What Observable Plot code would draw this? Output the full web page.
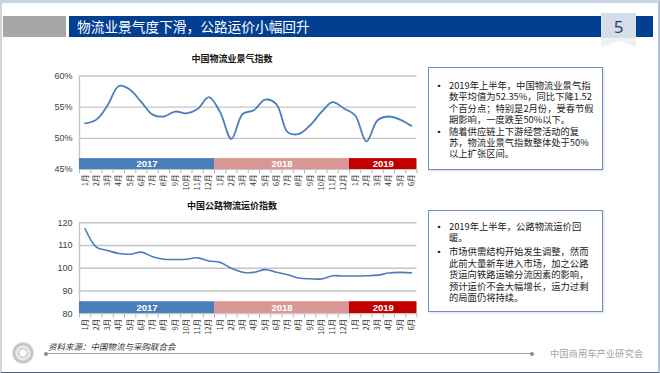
<!DOCTYPE html>
<html><head><meta charset="utf-8">
<script src="https://cdn.jsdelivr.net/npm/d3@7"></script>
<script src="https://cdn.jsdelivr.net/npm/@observablehq/plot@0.6"></script>
<style>
html,body{margin:0;padding:0;background:#fff;}
body{width:660px;height:373px;position:relative;overflow:hidden;font-family:"Noto Sans CJK SC","Noto Sans",sans-serif;}
.abs{position:absolute;}
#frame{left:0;top:0;width:656px;height:369px;border-top:3px solid #c9d4e2;border-left:2px solid #cfd5dd;border-right:2px solid #b9c2cf;border-bottom:1px solid #4a5a78;box-sizing:content-box;}
#graybar{left:3px;top:16px;width:63px;height:21px;background:#a6a6a6;}
#bluebar{left:69px;top:16px;width:584px;height:21px;background:#033f91;}
#title{left:77px;top:16px;height:21px;line-height:21px;color:#fff;font-size:13.7px;white-space:nowrap;}
#badge{left:601px;top:13px;width:35px;height:34px;background:linear-gradient(#d7dde7 0%,#d7dde7 72%,#eef0f4 73%);clip-path:polygon(0 0,100% 0,100% 100%,50% 82%,0 100%);}
#badgeNum{left:601px;top:15px;width:35px;text-align:center;font-family:"Open Sans",sans-serif;font-size:17px;color:#1c3a78;}
.ctitle{font-size:9px;font-weight:bold;color:#111;white-space:nowrap;transform:translateX(-50%);}
.box{border:1px solid #6f8fc4;box-shadow:1px 1px 2px rgba(0,0,0,0.15);background:#fff;box-sizing:border-box;}
.para{position:relative;padding-left:20px;font-size:9.3px;line-height:11.4px;color:#222;white-space:nowrap;}
.para .b{position:absolute;left:6px;top:0;font-size:8px;}
#source{left:48px;top:340px;font-size:8.5px;font-style:italic;color:#333;white-space:nowrap;}
#footline{left:46px;top:353px;width:486px;height:1px;background:#a0a0a0;}
.dot{width:4px;height:4px;border-radius:2px;background:#8c8c8c;}
#org{left:550px;top:346px;font-size:9.3px;color:#a6a6a6;white-space:nowrap;}
#logo{left:12px;top:342px;width:22px;height:22px;border-radius:11px;background:radial-gradient(circle,#fff 0 3px,#c8c8c8 4px,#f2f2f2 6px,#bdbdbd 9px,#e6e6e6 11px);}
</style></head>
<body>
<div id="frame" class="abs"></div>
<div id="graybar" class="abs"></div>
<div id="bluebar" class="abs"></div>
<div id="title" class="abs">物流业景气度下滑，公路运价小幅回升</div>
<div id="badge" class="abs"></div>
<div id="badgeNum" class="abs">5</div>

<div class="abs ctitle" style="left:232px;top:52px;">中国物流业景气指数</div>
<div class="abs ctitle" style="left:232px;top:199px;">中国公路物流运价指数</div>
<div id="chart1" class="abs" style="left:30px;top:65px;"></div>
<div id="chart2" class="abs" style="left:30px;top:210px;"></div>

<div class="abs box" style="left:428px;top:67px;width:175px;height:103px;padding-top:12px;">
  <div class="para"><span class="b">▪</span>2019年上半年，中国物流业景气指<br>数平均值为52.35%，同比下降1.52<br>个百分点；特别是2月份，受春节假<br>期影响，一度跌至50%以下。</div>
  <div class="para"><span class="b">▪</span>随着供应链上下游经营活动的复<br>苏，物流业景气指数整体处于50%<br>以上扩张区间。</div>
</div>
<div class="abs box" style="left:428px;top:210px;width:175px;height:102px;padding-top:10px;">
  <div class="para"><span class="b">▪</span>2019年上半年，公路物流运价回<br>暖。</div>
  <div class="para" style="margin-top:2.5px;"><span class="b">▪</span>市场供需结构开始发生调整，然而<br>此前大量新车进入市场，加之公路<br>货运向铁路运输分流因素的影响，<br>预计运价不会大幅增长，运力过剩<br>的局面仍将持续。</div>
</div>

<div id="logo" class="abs"></div>
<div id="source" class="abs">资料来源：中国物流与采购联合会</div>
<div id="footline" class="abs"></div>
<div class="abs dot" style="left:44px;top:351.5px;"></div>
<div class="abs dot" style="left:530px;top:351.5px;"></div>
<div id="org" class="abs">中国商用车产业研究会</div>

<script>
// ---- data ----
const monthLabels = ["1月","2月","3月","4月","5月","6月","7月","8月","9月","10月","11月","12月",
                     "1月","2月","3月","4月","5月","6月","7月","8月","9月","10月","11月","12月",
                     "1月","2月","3月","4月","5月","6月"];
const years = ["2017","2018","2019"];
const yearMonthCounts = [12, 12, 6];
const yearColors = ["#4a7ebb", "#d99694", "#c00000"];
const logisticsIndex = [52.4,53.0,55.3,58.4,57.8,55.8,53.8,53.5,54.3,54.0,54.7,56.6,
                        54.2,49.9,53.9,54.5,56.2,55.5,51.0,50.7,52.1,54.2,55.8,54.8,
                        53.7,49.5,52.9,53.5,53.0,52.0];
const freightIndex = [117.4,109.3,107.8,106.5,106.2,107.1,105.1,104.0,103.9,104.0,104.6,103.2,
                      102.6,100.0,98.3,98.2,99.4,98.3,97.2,95.7,95.4,95.3,96.7,96.6,
                      96.6,96.7,97.0,97.9,98.2,98.0];
const topTicks = [45,50,55,60];
const bottomTicks = [80,90,100,110,120];

// derived tables
let acc = 0;
const yearTable = years.map((y,k)=>{ const s = acc; acc += yearMonthCounts[k]; return {year:y, start:s, end:acc, color:yearColors[k]}; });
const n = monthLabels.length;
const boundaries = d3.range(0, n + 1);
const monthTable = monthLabels.map((m,i)=>({m, x:i+0.5}));

function makeChart(values, opts){
  const rows = values.map((v,i)=>({x:i+0.5, v}));
  const [y0,y1] = opts.domain;
  const bandTop = y0 + opts.bandH;
  const pxPerUnit = (opts.height - opts.mt - opts.mb) / (y1 - y0);
  const tickLen = 4 / pxPerUnit;
  return Plot.plot({
    width: 400, height: opts.height,
    marginLeft: 49, marginRight: 13.5, marginTop: opts.mt, marginBottom: opts.mb,
    style: {background:"transparent", fontFamily:"Liberation Sans, Arial, sans-serif", fontSize:"9px", color:"#404040", overflow:"visible"},
    x: {domain:[0,n], axis:null},
    y: {domain: opts.domain, ticks: opts.ticks, tickFormat: opts.fmt, tickSize: 0, tickPadding: 7, label: null},
    marks: [
      Plot.ruleY(opts.ticks.filter(t=>t>y0), {stroke:"#c4c4c4", strokeWidth:1.4}),
      Plot.ruleX([0], {y1:y0, y2:y1, stroke:"#c4c4c4", strokeWidth:1.4}),
      Plot.rect(yearTable, {x1:"start", x2:"end", y1:y0, y2:bandTop, fill:"color"}),
      Plot.text(yearTable, {x:d=>(d.start+d.end)/2, y:(y0+bandTop)/2, text:"year", fill:"#fff", fontWeight:"bold", fontSize:9.5, fontFamily:"Liberation Sans, Arial, sans-serif"}),
      Plot.ruleX(boundaries, {y1:y0, y2:y0 - tickLen, stroke:"#b0b0b0", strokeWidth:1}),
      Plot.ruleY([y0], {stroke:"#c4c4c4", strokeWidth:1}),
      Plot.text(monthTable, {x:"x", y:y0, text:"m", rotate:-90, textAnchor:"end", dy:5, fontSize:7.6, fill:"#333", fontFamily:"Noto Sans CJK SC, sans-serif"}),
      Plot.line(rows, {x:"x", y:"v", curve:"catmull-rom", stroke:"#4a7ebb", strokeWidth:opts.sw})
    ]
  });
}

document.getElementById("chart1").appendChild(makeChart(logisticsIndex, {
  domain:[45,60], ticks: topTicks, fmt: d=>d+"%", height:130, mt:10.5, mb:26, bandH:1.75, sw:1.8
}));
document.getElementById("chart2").appendChild(makeChart(freightIndex, {
  domain:[80,120], ticks: bottomTicks, fmt: d=>String(d), height:140, mt:12.3, mb:36.7, bandH:5.3, sw:1.6
}));
</script>
</body></html>
